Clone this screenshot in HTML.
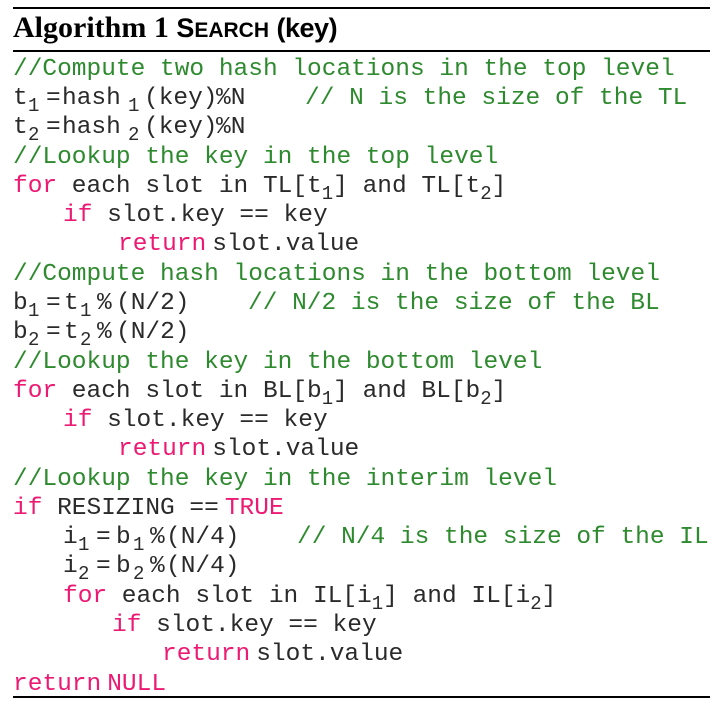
<!DOCTYPE html>
<html><head><meta charset="utf-8"><style>
body{margin:0;width:724px;height:707px;background:#fff;position:relative;overflow:hidden}
.r{position:absolute;left:13px;width:697px;background:#000}
.w{position:absolute;left:0;top:2px;width:724px;height:700px}
.l{position:absolute;height:30px;line-height:30px;font-family:"Liberation Mono",monospace;font-size:24.5px;color:#2a2a2a;white-space:pre}
.t{position:absolute;top:0;white-space:pre}
.k{color:#ec1a72}.c{color:#2e8a2e}
sub{font-size:19px;vertical-align:-7px;line-height:0}
.s{position:absolute;top:7px;font-size:19px;line-height:30px}
</style></head><body>
<div class="r" style="top:7px;height:2px"></div>
<div class="r" style="top:50px;height:1.5px"></div>
<div class="r" style="top:696px;height:1.5px"></div>
<div style="position:absolute;left:13px;top:10px;height:36px;line-height:36px;font-size:30px;font-weight:bold;white-space:pre;color:#000"><span style="font-family:'Liberation Serif',serif">Algorithm 1 </span><span style="font-family:'Liberation Sans',sans-serif;font-size:27px">S<span style="font-size:21px">EARCH</span> </span><span style="font-family:'Liberation Sans',sans-serif;font-size:27px;letter-spacing:-0.5px">(key)</span></div>
<div class="w">
<div class="l c" style="left:13px;top:53px">//Compute two hash locations in the top level</div>
<div class="l" style="left:0;top:82px;width:724px"><span class="t" style="left:13px">t</span><span class="s" style="left:28px">1</span><span class="t" style="left:46px">=</span><span class="t" style="left:62px">hash</span><span class="s" style="left:128px">1</span><span class="t" style="left:144px">(key)</span><span class="t" style="left:216px">%N</span><span class="t c" style="left:305px">// N is the size of the TL</span></div>
<div class="l" style="left:0;top:111px;width:724px"><span class="t" style="left:13px">t</span><span class="s" style="left:28px">2</span><span class="t" style="left:46px">=</span><span class="t" style="left:62px">hash</span><span class="s" style="left:128px">2</span><span class="t" style="left:144px">(key)</span><span class="t" style="left:216px">%N</span></div>
<div class="l c" style="left:13px;top:141px">//Lookup the key in the top level</div>
<div class="l" style="left:13px;top:170px"><span class="k">for</span> each slot in TL[t<sub>1</sub>] and TL[t<sub>2</sub>]</div>
<div class="l" style="left:63px;top:199px"><span class="k">if</span> slot.key == key</div>
<div class="l" style="left:118px;top:228px"><span class="k">return</span><span style="margin-left:6px">slot.value</span></div>
<div class="l c" style="left:13px;top:258px">//Compute hash locations in the bottom level</div>
<div class="l" style="left:0;top:287px;width:724px"><span class="t" style="left:13px">b</span><span class="s" style="left:28px">1</span><span class="t" style="left:46px">=</span><span class="t" style="left:64px">t</span><span class="s" style="left:80px">1</span><span class="t" style="left:97px">%</span><span class="t" style="left:116px">(N/2)</span><span class="t c" style="left:248px">// N/2 is the size of the BL</span></div>
<div class="l" style="left:0;top:316px;width:724px"><span class="t" style="left:13px">b</span><span class="s" style="left:28px">2</span><span class="t" style="left:46px">=</span><span class="t" style="left:64px">t</span><span class="s" style="left:80px">2</span><span class="t" style="left:97px">%</span><span class="t" style="left:116px">(N/2)</span></div>
<div class="l c" style="left:13px;top:346px">//Lookup the key in the bottom level</div>
<div class="l" style="left:13px;top:375px"><span class="k">for</span> each slot in BL[b<sub>1</sub>] and BL[b<sub>2</sub>]</div>
<div class="l" style="left:63px;top:404px"><span class="k">if</span> slot.key == key</div>
<div class="l" style="left:118px;top:433px"><span class="k">return</span><span style="margin-left:6px">slot.value</span></div>
<div class="l c" style="left:13px;top:463px">//Lookup the key in the interim level</div>
<div class="l" style="left:13px;top:492px"><span class="k">if</span> RESIZING ==<span class="k" style="margin-left:6px">TRUE</span></div>
<div class="l" style="left:0;top:521px;width:724px"><span class="t" style="left:63px">i</span><span class="s" style="left:78px">1</span><span class="t" style="left:96px">=</span><span class="t" style="left:116px">b</span><span class="s" style="left:133px">1</span><span class="t" style="left:150px">%</span><span class="t" style="left:166px">(N/4)</span><span class="t c" style="left:297px">// N/4 is the size of the IL</span></div>
<div class="l" style="left:0;top:550px;width:724px"><span class="t" style="left:63px">i</span><span class="s" style="left:78px">2</span><span class="t" style="left:96px">=</span><span class="t" style="left:116px">b</span><span class="s" style="left:133px">2</span><span class="t" style="left:150px">%</span><span class="t" style="left:166px">(N/4)</span></div>
<div class="l" style="left:63px;top:580px"><span class="k">for</span> each slot in IL[i<sub>1</sub>] and IL[i<sub>2</sub>]</div>
<div class="l" style="left:112px;top:609px"><span class="k">if</span> slot.key == key</div>
<div class="l" style="left:162px;top:638px"><span class="k">return</span><span style="margin-left:6px">slot.value</span></div>
<div class="l" style="left:13px;top:668px"><span class="k">return</span><span class="k" style="margin-left:6px">NULL</span></div>
</div>
</body></html>
